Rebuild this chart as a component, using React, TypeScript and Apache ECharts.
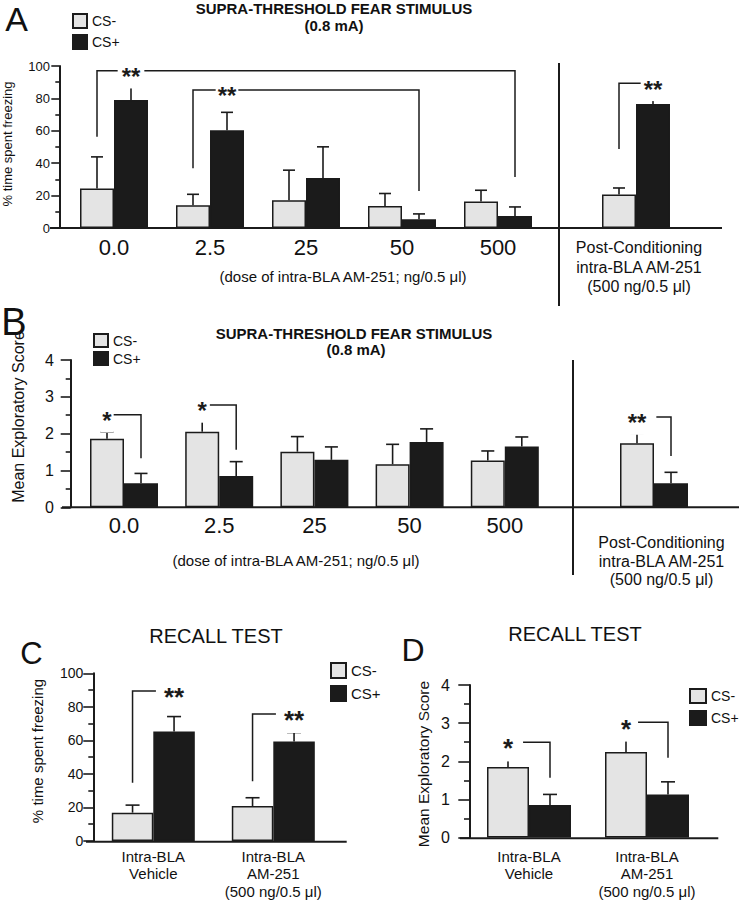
import React, { useEffect, useRef } from 'react';
import * as echarts from 'echarts';

// ---------- categories ----------
const doseCategories = ['0.0', '2.5', '25', '50', '500'];
const postCategories = ['Post-Conditioning\nintra-BLA AM-251\n(500 ng/0.5 μl)'];
const recallCategories = ['Intra-BLA\nVehicle', 'Intra-BLA\nAM-251\n(500 ng/0.5 μl)'];
const seriesNames = ['CS-', 'CS+'];

// ---------- Panel A: % time spent freezing (dose groups) ----------
const aDoseCsMinus = [24.4, 14.0, 17.1, 13.6, 16.3];
const aDoseCsMinusErr = [19.5, 6.8, 18.6, 7.7, 7.0];
const aDoseCsPlus = [79.0, 60.4, 30.9, 5.4, 7.4];
const aDoseCsPlusErr = [8.2, 11.0, 19.2, 3.3, 5.6];
const aPostCsMinus = [20.7];
const aPostCsMinusErr = [4.0];
const aPostCsPlus = [76.5];
const aPostCsPlusErr = [3.5];

// ---------- Panel B: mean exploratory score ----------
const bDoseCsMinus = [1.86, 2.05, 1.51, 1.17, 1.27];
const bDoseCsMinusErr = [0.18, 0.3, 0.41, 0.54, 0.26];
const bDoseCsPlus = [0.65, 0.85, 1.29, 1.77, 1.65];
const bDoseCsPlusErr = [0.27, 0.39, 0.35, 0.36, 0.26];
const bPostCsMinus = [1.74];
const bPostCsMinusErr = [0.27];
const bPostCsPlus = [0.65];
const bPostCsPlusErr = [0.3];

// ---------- Panel C: recall, % freezing ----------
const cCsMinus = [16.9, 20.8];
const cCsMinusErr = [4.5, 5.0];
const cCsPlus = [65.3, 59.4];
const cCsPlusErr = [8.9, 5.3];

// ---------- Panel D: recall, exploratory score ----------
const dCsMinus = [1.85, 2.24];
const dCsMinusErr = [0.3, 0.39];
const dCsPlus = [0.85, 1.13];
const dCsPlusErr = [0.28, 0.33];

// ---------- axis ranges ----------
const percentAxis = { min: 0, max: 100, interval: 20 };
const scoreAxis = { min: 0, max: 4, interval: 1 };

// ---------- significance brackets: [category, side(-1 CS-, +1 CS+), value] ----------
const aDoseBrackets = [
  { points: [[0, -1, 56.3], [0, -1, 97.1], [4, 1, 97.1], [4, 1, 31.5]], star: [0, 1, 97.1], label: '**', pad: 4 },
  { points: [[1, -1, 36.9], [1, -1, 85.2], [3, 1, 85.2], [3, 1, 22.9]], star: [1, 1, 85.2], label: '**', pad: 2 },
];
const aPostBrackets = [
  { points: [[0, -1, 48.7], [0, -1, 89.3], [0, 1, 89.3]], star: [0, 1, 89.3], label: '**', pad: 3 },
];
const bDoseBrackets = [
  { points: [[0, -1, 2.51], [0, 1, 2.51], [0, 1, 1.33]], star: [0, -1, 2.51], label: '*', pad: 2 },
  { points: [[1, -1, 2.78], [1, 1, 2.78], [1, 1, 1.56]], star: [1, -1, 2.78], label: '*', pad: 3 },
];
const bPostBrackets = [
  { points: [[0, -1, 2.45], [0, 1, 2.45], [0, 1, 1.39]], star: [0, -1, 2.45], label: '**', pad: 10 },
];
const cBrackets = [
  { points: [[0, -1, 34.7], [0, -1, 89.5], [0, 1, 89.5]], star: [0, 1, 89.5], label: '**', pad: 8 },
  { points: [[1, -1, 35.6], [1, -1, 75.8], [1, 1, 75.8]], star: [1, 1, 75.8], label: '**', pad: 8 },
];
const dBrackets = [
  { points: [[0, -1, 2.5], [0, 1, 2.5], [0, 1, 1.57]], star: [0, -1, 2.5], label: '*', pad: 10 },
  { points: [[1, -1, 3.02], [1, 1, 3.02], [1, 1, 2.09]], star: [1, -1, 3.02], label: '*', pad: 7 },
];

const FONT = '"Liberation Sans", Arial, Helvetica, sans-serif';
const INK = '#1b1b1b';
const LIGHT = '#e4e4e4';

function bars(axis: number, minus: number[], plus: number[], bw: number) {
  const common = {
    type: 'bar', xAxisIndex: axis, yAxisIndex: axis, barWidth: bw, barGap: '0%', z: 2, silent: true,
  };
  return [
    { ...common, name: seriesNames[0], data: minus, itemStyle: { color: LIGHT, borderColor: INK, borderWidth: 1.5 } },
    { ...common, name: seriesNames[1], data: plus, itemStyle: { color: INK, borderColor: INK, borderWidth: 1.5 } },
  ];
}

function errors(axis: number, minus: number[], minusErr: number[], plus: number[], plusErr: number[], bw: number, cap: number) {
  const data: number[][] = [];
  minus.forEach((v, i) => data.push([i, v, minusErr[i], -1]));
  plus.forEach((v, i) => data.push([i, v, plusErr[i], 1]));
  return {
    type: 'custom', xAxisIndex: axis, yAxisIndex: axis, data, encode: { x: 0, y: 1 }, z: 3, silent: true, clip: false,
    renderItem: (params: any, api: any) => {
      const cat = api.value(0), v = api.value(1), e = api.value(2), side = api.value(3);
      const base = api.coord([cat, v]);
      const top = api.coord([cat, v + e]);
      const x = base[0] + side * bw / 2;
      const st = { stroke: INK, lineWidth: 1.6 };
      return {
        type: 'group', children: [
          { type: 'line', shape: { x1: x, y1: base[1], x2: x, y2: top[1] }, style: st },
          { type: 'line', shape: { x1: x - cap / 2, y1: top[1], x2: x + cap / 2, y2: top[1] }, style: st },
        ],
      };
    },
  };
}

function brackets(axis: number, list: any[], bw: number, fontSize: number) {
  return {
    type: 'custom', xAxisIndex: axis, yAxisIndex: axis, z: 4, silent: true, clip: false,
    data: list.map((b) => [b.star[0], b.star[2]]), encode: { x: 0, y: 1 },
    renderItem: (params: any, api: any) => {
      const b = list[params.dataIndex];
      const pts = b.points.map(([c, s, v]: number[]) => {
        const p = api.coord([c, v]);
        return [p[0] + s * bw / 2, p[1]];
      });
      const sp = api.coord([b.star[0], b.star[2]]);
      const sx = sp[0] + b.star[1] * bw / 2;
      return {
        type: 'group', children: [
          { type: 'polyline', shape: { points: pts }, style: { stroke: INK, lineWidth: 1.5, fill: null } },
          {
            type: 'text', x: sx, y: sp[1] + fontSize * 0.24, z2: 10,
            style: {
              text: b.label, fontSize, fontWeight: 'bold', fontFamily: FONT, fill: INK,
              align: 'center', verticalAlign: 'middle', backgroundColor: '#fff', padding: [0, b.pad],
            },
          },
        ],
      };
    },
  };
}

function valueAxis(grid: number, range: any, o: any) {
  return {
    type: 'value', gridIndex: grid, ...range, show: o.show !== false, offset: o.offset || 0,
    axisLine: { show: true, lineStyle: { color: INK, width: 2 } },
    axisTick: { show: true, length: o.tick || 8, lineStyle: { color: INK, width: 1.6 } },
    minorTick: { show: true, splitNumber: 2, length: o.minor || 4, lineStyle: { color: INK, width: 1.6 } },
    splitLine: { show: false },
    axisLabel: { fontSize: o.font || 13, color: '#111', margin: o.margin || 8, fontFamily: FONT },
  };
}

function catAxis(grid: number, data: string[], o: any) {
  return {
    type: 'category', gridIndex: grid, data,
    axisLine: { show: false }, axisTick: { show: false },
    axisLabel: {
      interval: 0, fontSize: o.font, lineHeight: o.lineHeight, color: '#111', margin: o.margin,
      fontFamily: FONT, padding: o.padding || 0,
    },
  };
}

function txt(x: number, y: number, text: string, fontSize: number, extra: any = {}) {
  return {
    type: 'text', x, y, rotation: extra.rotation || 0,
    style: {
      text, fontSize, fontFamily: FONT, fontWeight: extra.bold ? 'bold' : 'normal', fill: '#111',
      align: 'center', verticalAlign: 'middle',
    },
  };
}

function hline(x1: number, x2: number, y: number) {
  return { type: 'line', shape: { x1, y1: y, x2, y2: y }, style: { stroke: INK, lineWidth: 2 } };
}
function vline(x: number, y1: number, y2: number) {
  return { type: 'line', shape: { x1: x, y1, x2: x, y2 }, style: { stroke: INK, lineWidth: 2 } };
}

function legend(left: number, top: number, w: number, h: number, gap: number, fs: number) {
  return {
    data: seriesNames, left, top, orient: 'vertical', itemWidth: w, itemHeight: h, itemGap: gap, padding: 0,
    icon: 'rect', selectedMode: false,
    textStyle: { fontSize: fs, lineHeight: h, color: '#111', fontFamily: FONT },
  };
}

const option: any = {
  animation: false,
  textStyle: { fontFamily: FONT },
  grid: [
    { left: 66, top: 66, width: 480, height: 162 },
    { left: 588, top: 66, width: 96, height: 162 },
    { left: 76.4, top: 360, width: 476, height: 147.3 },
    { left: 606.5, top: 360, width: 95, height: 147.3 },
    { left: 93.3, top: 673.3, width: 240, height: 168.4 },
    { left: 470, top: 685, width: 236, height: 153.3 },
  ],
  xAxis: [
    catAxis(0, doseCategories, { font: 22, margin: 8 }),
    catAxis(1, postCategories, { font: 16, lineHeight: 19.5, margin: 10, padding: [0, 0, 0, 6] }),
    catAxis(2, doseCategories, { font: 22, margin: 7 }),
    catAxis(3, postCategories, { font: 16, lineHeight: 18.5, margin: 26, padding: [0, 0, 0, 15] }),
    catAxis(4, recallCategories, { font: 15, lineHeight: 17.5, margin: 6.5 }),
    catAxis(5, recallCategories, { font: 15, lineHeight: 17.5, margin: 10 }),
  ],
  yAxis: [
    valueAxis(0, percentAxis, { offset: 6.7, tick: 8, minor: 4, font: 13, margin: 9.3 }),
    valueAxis(1, percentAxis, { show: false }),
    valueAxis(2, scoreAxis, { offset: 5.7, tick: 10, minor: 5, font: 16, margin: 16.7 }),
    valueAxis(3, scoreAxis, { show: false }),
    valueAxis(4, percentAxis, { tick: 10, minor: 5, font: 14, margin: 10 }),
    valueAxis(5, scoreAxis, { tick: 11.7, minor: 6, font: 16, margin: 20 }),
  ],
  legend: [
    legend(72, 13, 14, 14, 5, 14),
    legend(93, 333, 14, 13, 3, 14),
    legend(330, 662, 15, 15, 6, 15),
    legend(689, 688, 16, 14, 6, 14),
  ],
  series: [
    ...bars(0, aDoseCsMinus, aDoseCsPlus, 34),
    ...bars(1, aPostCsMinus, aPostCsPlus, 34),
    ...bars(2, bDoseCsMinus, bDoseCsPlus, 34),
    ...bars(3, bPostCsMinus, bPostCsPlus, 34),
    ...bars(4, cCsMinus, cCsPlus, 41.5),
    ...bars(5, dCsMinus, dCsPlus, 42),
    errors(0, aDoseCsMinus, aDoseCsMinusErr, aDoseCsPlus, aDoseCsPlusErr, 34, 12),
    errors(1, aPostCsMinus, aPostCsMinusErr, aPostCsPlus, aPostCsPlusErr, 34, 12),
    errors(2, bDoseCsMinus, bDoseCsMinusErr, bDoseCsPlus, bDoseCsPlusErr, 34, 13),
    errors(3, bPostCsMinus, bPostCsMinusErr, bPostCsPlus, bPostCsPlusErr, 34, 13),
    errors(4, cCsMinus, cCsMinusErr, cCsPlus, cCsPlusErr, 41.5, 14),
    errors(5, dCsMinus, dCsMinusErr, dCsPlus, dCsPlusErr, 42, 14),
    brackets(0, aDoseBrackets, 34, 24),
    brackets(1, aPostBrackets, 34, 24),
    brackets(2, bDoseBrackets, 34, 24),
    brackets(3, bPostBrackets, 34, 24),
    brackets(4, cBrackets, 41.5, 26),
    brackets(5, dBrackets, 42, 26),
  ],
  graphic: [
    // baselines and separators
    hline(50, 722, 228), vline(559, 63, 306),
    hline(62, 739, 507.3), vline(573, 360, 575),
    hline(86, 346.7, 841.7),
    hline(460, 718.3, 838.3),
    // panel letters
    txt(16.5, 19, 'A', 34), txt(14, 322, 'B', 38), txt(31.5, 653.5, 'C', 31), txt(413, 650, 'D', 32),
    // titles
    txt(334, 8, 'SUPRA-THRESHOLD FEAR STIMULUS', 15, { bold: true }),
    txt(334, 25, '(0.8 mA)', 15, { bold: true }),
    txt(354, 333, 'SUPRA-THRESHOLD FEAR STIMULUS', 15, { bold: true }),
    txt(356, 349, '(0.8 mA)', 15, { bold: true }),
    txt(216, 636, 'RECALL TEST', 20),
    txt(575, 633.5, 'RECALL TEST', 20),
    // dose captions
    txt(343, 276, '(dose of intra-BLA AM-251; ng/0.5 μl)', 15),
    txt(296, 560, '(dose of intra-BLA AM-251; ng/0.5 μl)', 15),
    // y axis names
    txt(7, 144, '% time spent freezing', 13, { rotation: Math.PI / 2 }),
    txt(18, 417, 'Mean Exploratory Score', 16, { rotation: Math.PI / 2 }),
    txt(37, 751, '% time spent freezing', 15, { rotation: Math.PI / 2 }),
    txt(423, 764, 'Mean Exploratory Score', 15.5, { rotation: Math.PI / 2 }),
  ],
};

export default function App() {
  const ref = useRef<HTMLDivElement>(null);
  useEffect(() => {
    document.body.style.margin = '0';
    const chart = echarts.init(ref.current as HTMLDivElement, undefined, { renderer: 'svg' });
    chart.setOption(option);
    return () => chart.dispose();
  }, []);
  return <div ref={ref} style={{ width: 739, height: 900, background: '#fff' }} />;
}
